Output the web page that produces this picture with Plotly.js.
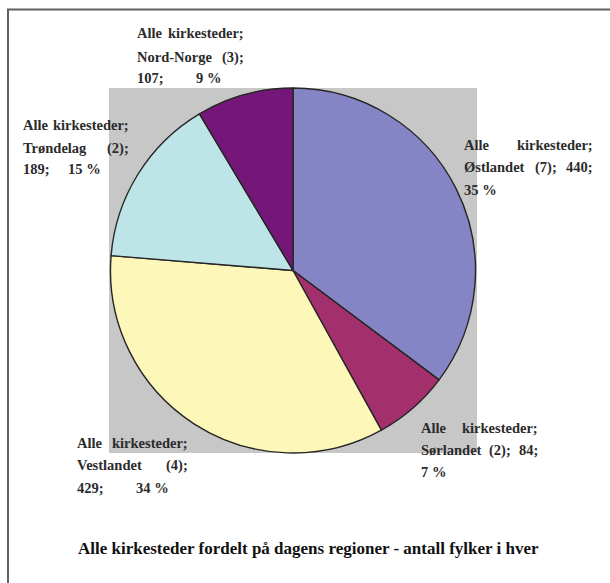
<!DOCTYPE html>
<html>
<head>
<meta charset="utf-8">
<script src="https://cdn.plot.ly/plotly-3.0.1.min.js"></script>
<style>
  html, body { margin: 0; padding: 0; background: #ffffff; }
  #chart { width: 610px; height: 583px; }
</style>
</head>
<body>
<div id="chart"></div>
<script>
// ---- data ----
const regions  = ["Østlandet", "Sørlandet", "Vestlandet", "Trøndelag", "Nord-Norge"];
const fylker   = [7, 2, 4, 2, 3];
const values   = [440, 84, 429, 189, 107];
const percents = [35, 7, 34, 15, 9];
const seriesName = "Alle kirkesteder";
const titleText = "Alle kirkesteder fordelt på dagens regioner - antall fylker i hver";

// ---- styling / layout ----
const colors = ["#8585C6", "#A3306C", "#FDF8B9", "#BDE5E8", "#741779"];
const W = 610, H = 583;
const px = x => x / W;
const py = y => 1 - y / H;
const FAMILY = "Liberation Serif";
const LABEL_SIZE = 14.5;
const LABEL_WEIGHT = "bold";

// label boxes: left x, right x of justified column, y of each line, end x of last line (0 = left aligned)
const labelBoxes = [
  {style: "A", x0: 463, x1: 592, ys: [145, 167, 190], lastEnd: 0},
  {style: "A", x0: 420, x1: 537, ys: [428, 450, 472], lastEnd: 0},
  {style: "B", x0: 76,  x1: 187, ys: [443, 465, 488], lastEnd: 168},
  {style: "B", x0: 22,  x1: 128, ys: [125, 148, 169], lastEnd: 100},
  {style: "B", x0: 136, x1: 243, ys: [33, 57, 78],    lastEnd: 220}
];

const cv = document.createElement("canvas").getContext("2d");
cv.font = LABEL_WEIGHT + " " + LABEL_SIZE + "px '" + FAMILY + "'";
const measure = t => cv.measureText(t).width;
const spaceW = measure(" ");

const annotations = [];
function addWords(words, xa, xb, y) {
  if (words.length === 1 || !xb) {
    let x = xa;
    words.forEach(w => { pushText(w, x, y); x += measure(w) + spaceW; });
    return;
  }
  const widths = words.map(measure);
  const total = widths.reduce((a, b) => a + b, 0);
  const gap = Math.max(spaceW * 0.8, (xb - xa - total) / (words.length - 1));
  let x = xa;
  words.forEach((w, k) => { pushText(w, x, y); x += widths[k] + gap; });
}
function pushText(t, x, y) {
  annotations.push({
    xref: "paper", yref: "paper",
    x: px(x), y: py(y),
    xanchor: "left", yanchor: "middle",
    text: t, showarrow: false, borderpad: 0,
    font: {family: FAMILY, size: LABEL_SIZE, color: "#2b2b2b", weight: LABEL_WEIGHT}
  });
}

regions.forEach((r, i) => {
  const b = labelBoxes[i];
  addWords(["Alle", "kirkesteder;"], b.x0, b.x1, b.ys[0]);
  if (b.style === "A") {
    addWords([r, "(" + fylker[i] + ");", values[i] + ";"], b.x0, b.x1, b.ys[1]);
    addWords([percents[i] + "\u00A0%"], b.x0, 0, b.ys[2]);
  } else {
    addWords([r, "(" + fylker[i] + ");"], b.x0, b.x1, b.ys[1]);
    addWords([values[i] + ";", percents[i] + "\u00A0%"], b.x0, b.lastEnd, b.ys[2]);
  }
});

annotations.push({
  xref: "paper", yref: "paper",
  x: px(308), y: py(548),
  xanchor: "center", yanchor: "middle",
  text: titleText, showarrow: false,
  font: {family: FAMILY, size: 17, color: "#111111", weight: "bold"}
});

const trace = {
  type: "pie",
  labels: regions,
  values: values,
  sort: false,
  direction: "clockwise",
  rotation: 0,
  textinfo: "none",
  hoverinfo: "label+value+percent",
  marker: {colors: colors, line: {color: "#262626", width: 1.4}},
  domain: {x: [px(109), px(477)], y: [py(453), py(88)]},
  name: seriesName
};

const layout = {
  width: W, height: H,
  margin: {l: 0, r: 0, t: 0, b: 0},
  paper_bgcolor: "#ffffff",
  font: {family: FAMILY},
  showlegend: false,
  shapes: [
    {type: "rect", xref: "paper", yref: "paper", layer: "below",
     x0: px(109), x1: px(477), y0: py(453), y1: py(88),
     fillcolor: "#C7C7C7", line: {width: 0}},
    {type: "rect", xref: "paper", yref: "paper", layer: "above",
     x0: px(8), x1: 1.05, y0: -0.05, y1: py(9.5),
     fillcolor: "rgba(0,0,0,0)", line: {color: "#5f5f5f", width: 2}}
  ],
  annotations: annotations
};

Plotly.newPlot("chart", [trace], layout, {displayModeBar: false, staticPlot: true});
</script>
</body>
</html>
